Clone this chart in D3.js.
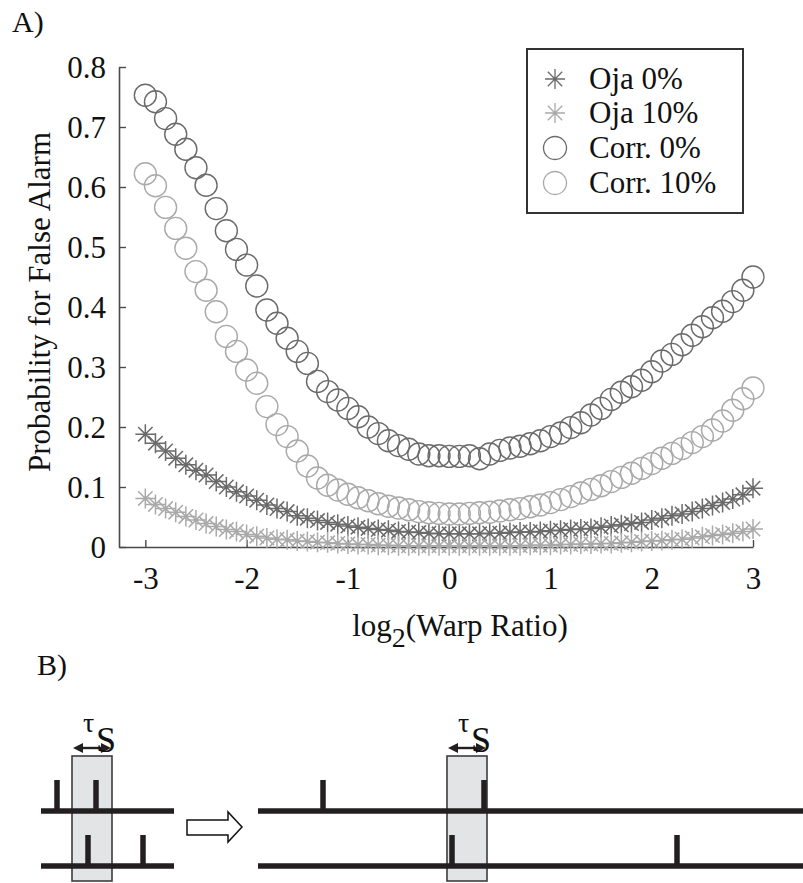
<!DOCTYPE html>
<html>
<head>
<meta charset="utf-8">
<script src="https://cdn.jsdelivr.net/npm/d3@7"></script>
<style>
  html, body { margin: 0; padding: 0; background: #fff; }
  svg { display: block; }
</style>
</head>
<body>
<svg id="chart" width="803" height="883"></svg>
<script>
// ---------------- Data (panel A) ----------------
// log2(Warp Ratio) from -3 to 3 in steps of 0.1 (61 samples)
const warpLog2 = d3.range(61).map(i => +(-3 + i * 0.1).toFixed(1));

const oja0 = [0.188,0.173,0.160,0.148,0.137,0.128,0.120,0.109,0.100,0.092,
  0.085,0.078,0.070,0.064,0.059,0.052,0.048,0.044,0.041,0.038,
  0.035,0.033,0.031,0.029,0.028,0.026,0.025,0.024,0.023,0.022,
  0.022,0.022,0.022,0.022,0.023,0.023,0.024,0.025,0.025,0.026,
  0.027,0.028,0.029,0.030,0.031,0.033,0.035,0.037,0.039,0.041,
  0.045,0.048,0.052,0.055,0.059,0.064,0.069,0.074,0.080,0.087,0.098];

const oja10 = [0.081,0.071,0.064,0.058,0.051,0.045,0.039,0.034,0.029,0.026,
  0.021,0.018,0.015,0.013,0.012,0.010,0.009,0.008,0.007,0.006,
  0.005,0.004,0.004,0.003,0.003,0.002,0.002,0.002,0.002,0.002,
  0.002,0.002,0.002,0.002,0.002,0.002,0.002,0.002,0.003,0.003,
  0.003,0.004,0.004,0.005,0.005,0.006,0.006,0.007,0.008,0.009,
  0.010,0.011,0.012,0.013,0.015,0.017,0.019,0.021,0.023,0.026,0.030];

const corr0 = [0.753,0.742,0.714,0.688,0.663,0.632,0.603,0.564,0.527,0.496,
  0.470,0.435,0.395,0.373,0.348,0.326,0.306,0.276,0.259,0.245,
  0.231,0.217,0.200,0.189,0.177,0.169,0.163,0.155,0.152,0.152,
  0.151,0.151,0.152,0.147,0.155,0.161,0.165,0.168,0.172,0.177,
  0.184,0.190,0.199,0.207,0.220,0.231,0.246,0.258,0.267,0.278,
  0.292,0.310,0.321,0.337,0.353,0.367,0.382,0.393,0.409,0.428,0.450];

const corr10 = [0.622,0.602,0.566,0.531,0.498,0.459,0.428,0.392,0.351,0.326,
  0.295,0.273,0.234,0.204,0.184,0.160,0.135,0.115,0.103,0.095,
  0.088,0.082,0.077,0.072,0.068,0.065,0.062,0.059,0.057,0.056,
  0.055,0.055,0.056,0.057,0.058,0.060,0.062,0.064,0.067,0.070,
  0.074,0.079,0.084,0.090,0.096,0.102,0.109,0.116,0.123,0.131,
  0.139,0.148,0.156,0.164,0.174,0.184,0.195,0.210,0.228,0.247,0.265];

const seriesNames = ["Oja 0%", "Oja 10%", "Corr. 0%", "Corr. 10%"];
const seriesValues = [oja0, oja10, corr0, corr10];
const seriesMarkers = ["star", "star", "circle", "circle"];
const seriesColors = ["#6a6a6a", "#a9a9a9", "#6a6a6a", "#a9a9a9"];

const xTicks = [-3, -2, -1, 0, 1, 2, 3];
const xTickLabels = ["-3", "-2", "-1", "0", "1", "2", "3"];
const yTicks = [0, 0.1, 0.2, 0.3, 0.4, 0.5, 0.6, 0.7, 0.8];
const yTickLabels = ["0", "0.1", "0.2", "0.3", "0.4", "0.5", "0.6", "0.7", "0.8"];

// ---------------- Data (panel B diagram) ----------------
// spike times (arbitrary time units along each train), window start & width
const beforeUpperSpikes = [16, 55];
const beforeLowerSpikes = [47, 102];
const beforeWindow = [31, 40];
const beforeLength = 133;
const afterUpperSpikes = [65, 226];
const afterLowerSpikes = [194, 419];
const afterWindow = [189, 40];
const afterLength = 545;

// ---------------- Drawing ----------------
const svg = d3.select("#chart");
const FS = 31;
const txt = (sel) => sel.attr("font-family", "Liberation Serif")
  .style("font-family", '"Liberation Serif"').attr("fill", "#111");

const x = d3.scaleLinear().domain([-3.26, 3]).range([119, 753]);
const y = d3.scaleLinear().domain([0, 0.8]).range([547, 67]);

txt(svg.append("text")).attr("x", 12).attr("y", 32).attr("font-size", 30).text("A)");

const axisColor = "#4a4a4a";
const gx = svg.append("g").attr("transform", `translate(0,${y(0)})`)
  .call(d3.axisBottom(x).tickValues(xTicks).tickFormat((d, i) => xTickLabels[i])
    .tickSize(-7).tickSizeOuter(0));
const gy = svg.append("g").attr("transform", `translate(${x.range()[0]},0)`)
  .call(d3.axisLeft(y).tickValues(yTicks).tickFormat((d, i) => yTickLabels[i])
    .tickSize(-7).tickSizeOuter(0));
[gx, gy].forEach(g => {
  g.attr("font-family", "Liberation Serif").attr("font-size", FS);
  g.select(".domain").attr("stroke", axisColor).attr("stroke-width", 1.6);
  g.selectAll(".tick line").attr("stroke", axisColor).attr("stroke-width", 1.4);
  txt(g.selectAll(".tick text")).attr("font-size", FS);
});
gx.selectAll(".tick text").attr("y", 20).attr("dy", "0.71em");
gy.selectAll(".tick text").attr("x", -13).attr("dy", "0.33em");

// axis labels
txt(svg.append("text"))
  .attr("transform", `translate(50,${(y(0) + y(0.8)) / 2 - 5}) rotate(-90)`)
  .attr("text-anchor", "middle").attr("font-size", FS)
  .text("Probability for False Alarm");

const xl = txt(svg.append("text")).attr("x", 460).attr("y", 636)
  .attr("text-anchor", "middle").attr("font-size", FS);
xl.append("tspan").text("log");
xl.append("tspan").attr("dy", 11).attr("font-size", 28).text("2");
xl.append("tspan").attr("dy", -11).text("(Warp Ratio)");

// markers
function starPath(s) {
  const d = s * 0.72;
  return `M${-s},0H${s}M0,${-s}V${s}M${-d},${-d}L${d},${d}M${-d},${d}L${d},${-d}`;
}
const plot = svg.append("g");
seriesValues.forEach((vals, k) => {
  const g = plot.append("g").attr("fill", "none").attr("stroke", seriesColors[k]);
  if (seriesMarkers[k] === "star") {
    g.selectAll("path").data(vals).join("path")
      .attr("transform", (d, i) => `translate(${x(warpLog2[i])},${y(d)})`)
      .attr("d", starPath(10)).attr("stroke-width", 1.5);
  } else {
    g.selectAll("circle").data(vals).join("circle")
      .attr("cx", (d, i) => x(warpLog2[i])).attr("cy", d => y(d))
      .attr("r", 11).attr("stroke-width", 1.4);
  }
});

// legend
const lg = svg.append("g");
lg.append("rect").attr("x", 527).attr("y", 49).attr("width", 216).attr("height", 164)
  .attr("fill", "#fff").attr("stroke", "#333").attr("stroke-width", 2);
const rowY = [79, 113, 148, 183];
seriesNames.forEach((name, k) => {
  const g = lg.append("g").attr("transform", `translate(555,${rowY[k]})`);
  if (seriesMarkers[k] === "star") {
    g.append("path").attr("d", starPath(10)).attr("fill", "none")
      .attr("stroke", seriesColors[k]).attr("stroke-width", 1.3);
  } else {
    g.append("circle").attr("r", 11.5).attr("fill", "none")
      .attr("stroke", seriesColors[k]).attr("stroke-width", 1.3);
  }
  txt(lg.append("text")).attr("x", 589).attr("y", rowY[k]).attr("dy", "0.33em")
    .attr("font-size", FS).text(name);
});

// ---------------- Panel B ----------------
txt(svg.append("text")).attr("x", 37).attr("y", 675).attr("font-size", 30).text("B)");

const lineCol = "#231f20";
const upperY = 811, lowerY = 866, spikeTop = 31, lineW = 5.5;

function drawTrain(x0, length, upper, lower, win) {
  const t = d3.scaleLinear().domain([0, length]).range([x0, x0 + length]);
  const g = svg.append("g");
  // window box
  g.append("rect").attr("x", t(win[0])).attr("y", 756).attr("width", t(win[0] + win[1]) - t(win[0]))
    .attr("height", 125).attr("fill", "#e3e4e6").attr("stroke", "#3c3c3c").attr("stroke-width", 1.6);
  // timelines
  [upperY, lowerY].forEach(yy => g.append("line").attr("x1", t(0)).attr("x2", t(length))
    .attr("y1", yy).attr("y2", yy).attr("stroke", lineCol).attr("stroke-width", lineW));
  // spikes
  g.selectAll(".su").data(upper).join("line").attr("x1", d => t(d)).attr("x2", d => t(d))
    .attr("y1", upperY - spikeTop).attr("y2", upperY).attr("stroke", lineCol).attr("stroke-width", 5.5);
  g.selectAll(".sl").data(lower).join("line").attr("x1", d => t(d)).attr("x2", d => t(d))
    .attr("y1", lowerY - spikeTop).attr("y2", lowerY).attr("stroke", lineCol).attr("stroke-width", 5.5);
  // double arrow
  const a0 = t(win[0]) + 1, a1 = t(win[0] + win[1]) - 1, ay = 748;
  g.append("line").attr("x1", a0 + 6).attr("x2", a1 - 6).attr("y1", ay).attr("y2", ay)
    .attr("stroke", lineCol).attr("stroke-width", 2.4);
  g.append("path").attr("d", `M${a0},${ay}L${a0 + 10},${ay - 5}L${a0 + 10},${ay + 5}Z`).attr("fill", lineCol);
  g.append("path").attr("d", `M${a1},${ay}L${a1 - 10},${ay - 5}L${a1 - 10},${ay + 5}Z`).attr("fill", lineCol);
  // label
  const lx = t(win[0]) + 11;
  txt(g.append("text")).attr("x", lx).attr("y", 732).attr("font-size", 28).text("τ");
  txt(g.append("text")).attr("x", lx + 13).attr("y", 752).attr("font-size", 36).text("S");
}
drawTrain(41, beforeLength, beforeUpperSpikes, beforeLowerSpikes, beforeWindow);
drawTrain(258, afterLength, afterUpperSpikes, afterLowerSpikes, afterWindow);

// hollow arrow
svg.append("path")
  .attr("d", "M187,820H228V812L242,827L228,842V835H187Z")
  .attr("fill", "#fff").attr("stroke", "#111").attr("stroke-width", 1.5);
</script>
</body>
</html>
